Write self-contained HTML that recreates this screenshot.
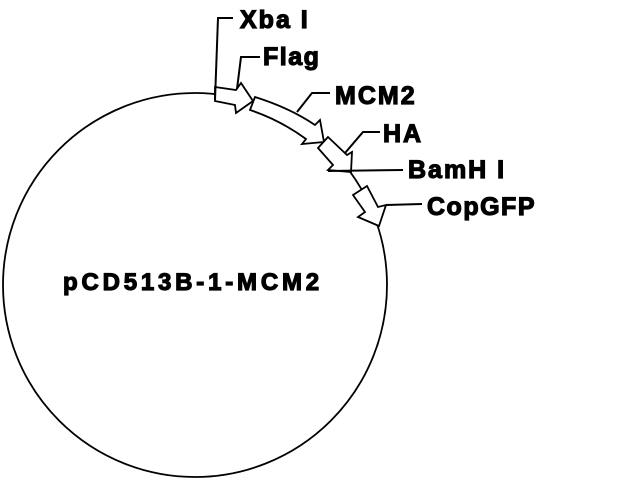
<!DOCTYPE html>
<html><head><style>
html,body{margin:0;padding:0;background:#fff;width:640px;height:480px;overflow:hidden}
text{font-family:"Liberation Sans",Arial,sans-serif;font-weight:bold;fill:#000;stroke:#000;stroke-width:1.2px}
</style></head><body>
<svg width="640" height="480" viewBox="0 0 640 480" xmlns="http://www.w3.org/2000/svg">
<circle cx="195" cy="285" r="192" fill="none" stroke="#000" stroke-width="1.8"/>
<g fill="#fff" stroke="#000" stroke-width="1.8" stroke-linejoin="miter">
<polygon points="215,87 236,90 241,83 253,101 236,113 235,105 215,101"/>
<path d="M255,97 Q290,108 315,125 L320,120 L324,142 L302,144 L306,139 Q280,120 250,110 Z"/>
<polygon points="328,137 318,148 333,165 328,170 351,172 352,152 347,155"/>
<polygon points="353,195 367,186 378,207 386,205 379,226 358,217 365,212"/>
</g>
<g fill="none" stroke="#000" stroke-width="2">
<polyline points="215,100 218,18 233,18"/>
<polyline points="237,89 241,57 260,57"/>
<polyline points="297,112 312,93 330,93"/>
<polyline points="345,153 363,132 380,132"/>
<polyline points="328,171 403,170"/>
<polyline points="386,205 422,204"/>
</g>
<text x="240" y="28" font-size="25" letter-spacing="2">Xba I</text>
<text x="263" y="65" font-size="25" letter-spacing="1.5">Flag</text>
<text x="335" y="104" font-size="25" letter-spacing="2">MCM2</text>
<text x="383" y="142" font-size="25" letter-spacing="2">HA</text>
<text x="408" y="178" font-size="25" letter-spacing="2">BamH I</text>
<text x="427" y="215" font-size="25" letter-spacing="1.5">CopGFP</text>
<text x="63" y="290" font-size="24" letter-spacing="3.8">pCD513B-1-MCM2</text>
</svg>
</body></html>
